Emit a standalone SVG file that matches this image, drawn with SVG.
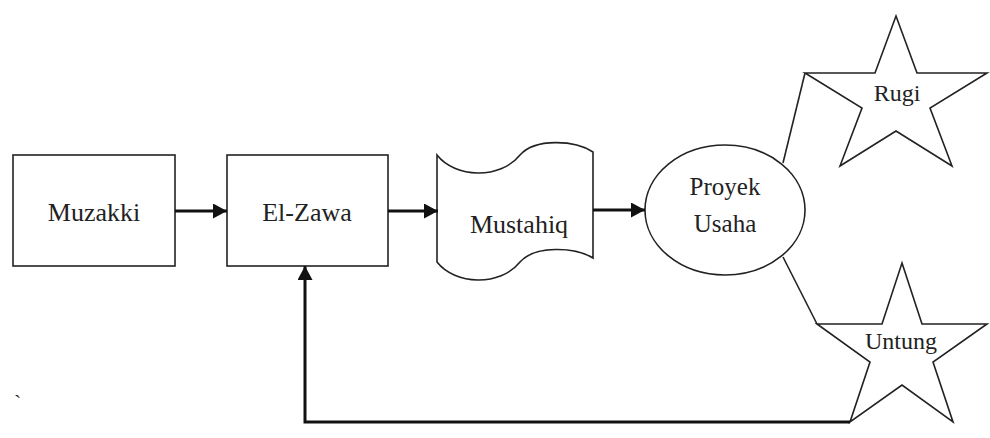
<svg xmlns="http://www.w3.org/2000/svg" width="990" height="438" viewBox="0 0 990 438">
<style>
.shape{fill:#fff;stroke:#222;stroke-width:1.6}
.conn{fill:none;stroke:#111;stroke-width:3}
.thin{fill:none;stroke:#222;stroke-width:1.6}
.lbl{font-family:"Liberation Serif","Times New Roman",serif;fill:#222;text-anchor:middle}
</style>
<defs>
<marker id="ah" markerUnits="userSpaceOnUse" markerWidth="15" markerHeight="16" refX="14" refY="7.5" orient="auto">
<path d="M0,0 L14,7.5 L0,15 Z" fill="#111"/>
</marker>
</defs>
<rect width="990" height="438" fill="#fff"/>
<g id="muzakki">
<rect class="shape" x="13" y="155" width="162" height="111"/>
<text class="lbl" x="94" y="221" font-size="26">Muzakki</text>
</g>
<g id="elzawa">
<rect class="shape" x="227" y="155" width="161" height="111"/>
<text class="lbl" x="307" y="221" font-size="26">El-Zawa</text>
</g>
<g id="mustahiq">
<path class="shape" d="M437,155 C455,178 500,180 520,155 C535,138 575,140 593,152 L593,258 C575,247 535,245 520,262 C500,287 455,285 437,262 Z"/>
<text class="lbl" x="519" y="233" font-size="26">Mustahiq</text>
</g>
<g id="proyek">
<ellipse class="shape" cx="725" cy="210" rx="80" ry="65"/>
<text class="lbl" x="725" y="195" font-size="25">Proyek</text>
<text class="lbl" x="725" y="232" font-size="25">Usaha</text>
</g>
<g id="rugi">
<polygon class="shape" points="896,16 917,73 987,73 930,108 952,166 896,131 840,166 862,108 805,73 875,73"/>
<text class="lbl" x="897" y="101" font-size="24">Rugi</text>
</g>
<g id="untung">
<polygon class="shape" points="902,263 922,324 987,324 933,362 953,422 902,385 850,422 870,362 817,324 882,324"/>
<text class="lbl" x="901" y="349" font-size="24">Untung</text>
</g>
<g id="connectors">
<line class="conn" x1="175" y1="211" x2="227" y2="211" marker-end="url(#ah)"/>
<line class="conn" x1="388" y1="211" x2="438" y2="211" marker-end="url(#ah)"/>
<line class="conn" x1="593" y1="210" x2="645" y2="210" marker-end="url(#ah)"/>
<line class="thin" x1="783" y1="163" x2="805" y2="73"/>
<line class="thin" x1="783" y1="257" x2="817" y2="324"/>
<path class="conn" d="M850,422 H305 V266" stroke-width="2.6" marker-end="url(#ah)"/>
</g>
<text x="14" y="410" font-family="Liberation Serif, serif" font-size="22" fill="#222">`</text>
</svg>
